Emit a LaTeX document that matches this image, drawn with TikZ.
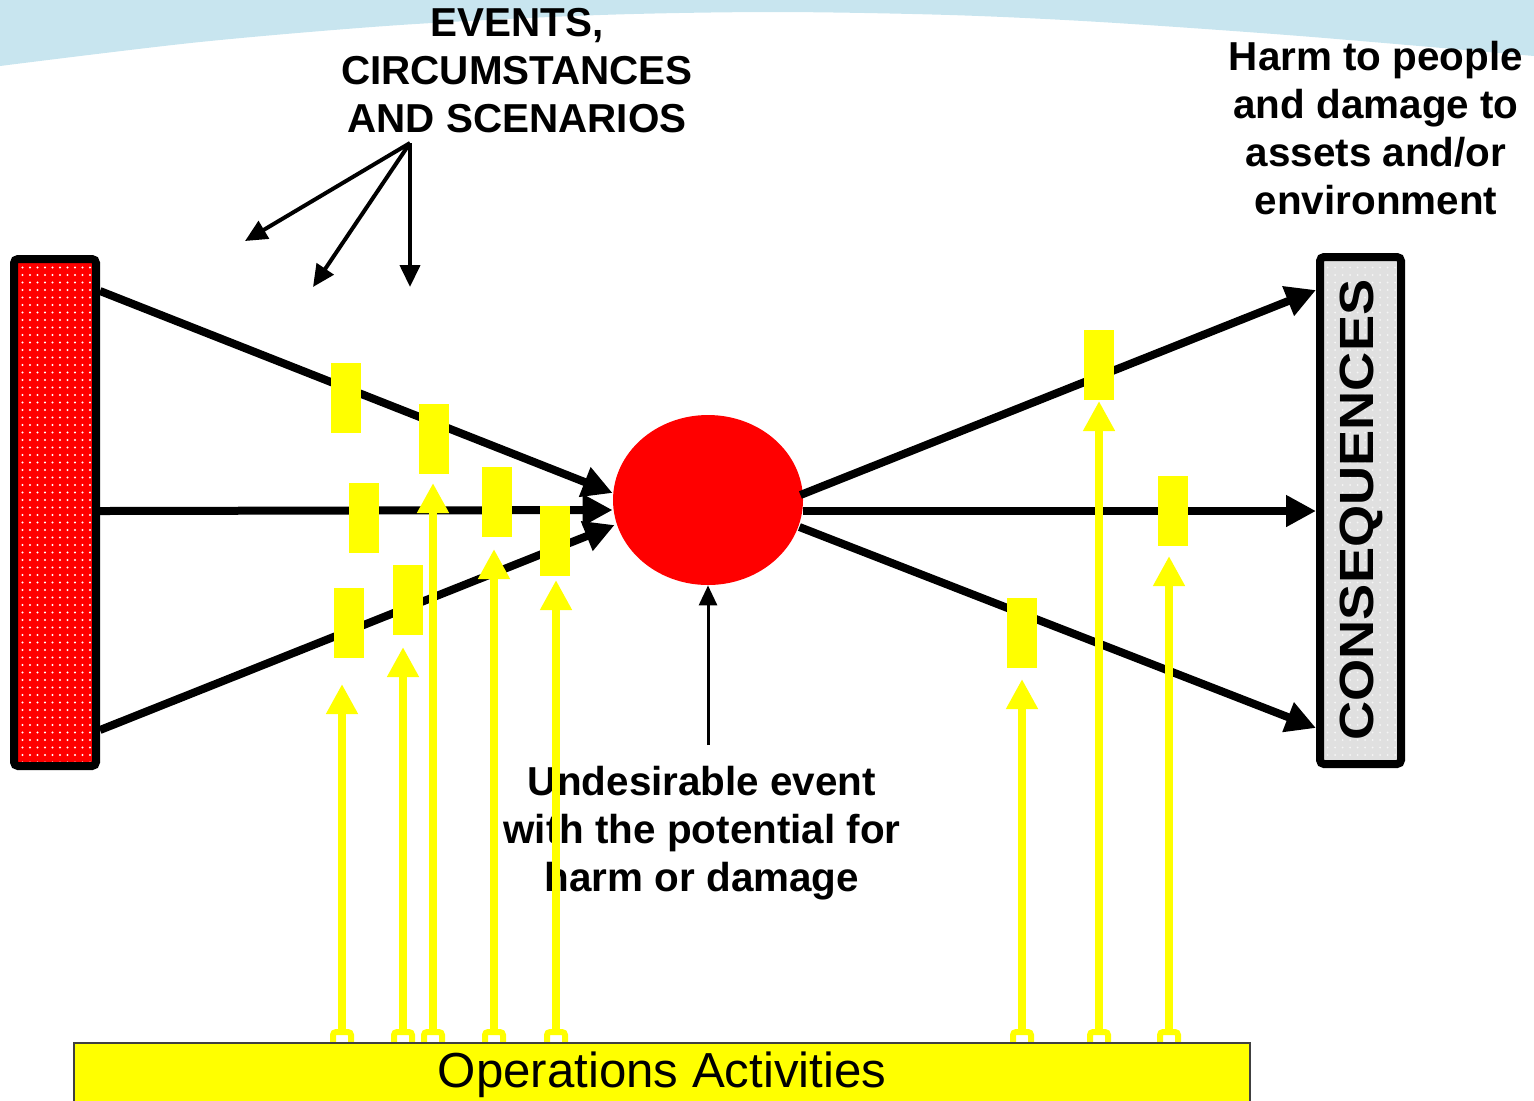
\documentclass[tikz,border=0pt]{standalone}
\usepackage{fontspec}
\setmainfont{Liberation Sans}
\usetikzlibrary{arrows.meta,shapes.geometric,patterns.meta,calc}
\definecolor{skyband}{RGB}{200,229,239}
\definecolor{ylw}{RGB}{255,255,0}
\definecolor{boxgray}{RGB}{224,224,224}
\tikzset{
  blkarrow/.style={line width=4pt, -{Triangle[length=15pt,width=15pt]}},
  evarrow/.style={line width=2pt, -{Triangle[length=11pt,width=10pt]}},
  thinptr/.style={line width=1.5pt, -{Triangle[length=10pt,width=9pt]}},
  yarrow/.style={draw=ylw, line width=4pt, -{Triangle[length=15pt,width=15pt]}},
  barrier/.style={rectangle, fill=ylw, minimum width=15pt, minimum height=35pt, inner sep=0pt},
  foot/.style={rectangle, draw=ylw, line width=3pt, fill=white, minimum size=9pt, inner sep=0pt, rounded corners=1.5pt},
  lbltext/.style={align=center, font=\fontsize{20.2}{24}\selectfont\bfseries, inner sep=0pt},
  endbox/.style={draw, line width=4pt, rounded corners=2pt, minimum width=41pt, minimum height=253.5pt, inner sep=0pt},
  opsbox/.style={rectangle, fill=ylw, draw=black!75, line width=0.6pt, minimum width=588pt, minimum height=32pt, inner sep=0pt, font=\fontsize{24.6}{28}\selectfont},
}
\begin{document}
\begin{tikzpicture}[x=0.5pt,y=-0.5pt]
\useasboundingbox (0,0) rectangle (1534,1100);
\clip (0,0) rectangle (1534,1100);
% sky band
\fill[skyband] (0,0) -- plot[smooth] coordinates {(0,66) (200,42) (400,25) (600,15) (775,12) (950,15) (1100,22) (1300,36) (1534,56)} -- (1534,0) -- cycle;

% end boxes and event
\node[endbox, preaction={fill=red}, preaction={pattern={Dots[radius=0.55pt,distance=3.75pt]}, pattern color=white}] (lb) at (55,512.5) {};
\node[endbox, minimum width=40.5pt, preaction={fill=boxgray}, preaction={pattern={Dots[radius=0.5pt,distance=3.75pt]}, pattern color=white!70!boxgray}] (rb) at (1360.5,510.5) {};
\node[rotate=90, inner sep=0pt, font=\fontsize{24}{28}\selectfont\bfseries] (cons) at (1361,510) {\scalebox{1.13}[1]{CONSEQUENCES}};
\node[ellipse, fill=red, minimum width=95pt, minimum height=85pt, inner sep=0pt] (ev) at (708,500) {};

% black causal lines
\draw[blkarrow] ([yshift=110.75pt]lb.east) -- ([yshift=3.5pt]ev.west);
\draw[blkarrow] ([yshift=0.75pt]lb.east) -- ([yshift=-5pt]ev.west);
\draw[blkarrow] ([yshift=-108.75pt]lb.east) -- ([xshift=1pt,yshift=-12.5pt]ev.west);
\draw[blkarrow] ([xshift=-1.5pt,yshift=2.5pt]ev.east) -- ([yshift=110.25pt]rb.west);
\draw[blkarrow] ([yshift=-5.5pt]ev.east) -- ([yshift=-0.25pt]rb.west);
\draw[blkarrow] ([xshift=-2pt,yshift=-13.5pt]ev.east) -- ([yshift=-108.75pt]rb.west);

% barriers
\node[barrier] (b1) at (346,398) {};
\node[barrier] (b2) at (434,439) {};
\node[barrier] (b3) at (364,518) {};
\node[barrier] (b4) at (497,502) {};
\node[barrier] (b5) at (555,541) {};
\node[barrier] (b6) at (349,623) {};
\node[barrier] (b7) at (408,600) {};
\node[barrier] (b8) at (1099,365) {};
\node[barrier] (b9) at (1173,511) {};
\node[barrier] (b10) at (1022,633) {};

% texts
\node[lbltext] (evt) at (517,70.5) {EVENTS,\\CIRCUMSTANCES\\AND SCENARIOS};
\node[lbltext] (harm) at (1376,128.5) {Harm to people\\and damage to\\assets and/or\\environment};
\node[lbltext] (ut) at (702,832.7) {Undesirable event\\with the potential for\\harm or damage};

% feet of yellow arrows
\node[foot] (f1) at (342,1041) {};
\node[foot] (f2) at (403,1041) {};
\node[foot] (f3) at (433,1041) {};
\node[foot] (f4) at (494,1041) {};
\node[foot] (f5) at (556,1041) {};
\node[foot] (f6) at (1022,1041) {};
\node[foot] (f7) at (1099,1041) {};
\node[foot] (f8) at (1169,1041) {};

% operations box
\node[opsbox] (ops) at (662,1075) {Operations Activities};

% yellow arrows
\coordinate (t1) at (342,684);
\coordinate (t2) at (403,647);
\coordinate (t3) at (433,483);
\coordinate (t4) at (494,549);
\coordinate (t5) at (556,580);
\coordinate (t6) at (1022,679);
\coordinate (t7) at (1099,401);
\coordinate (t8) at (1169,556);
\foreach \i in {1,...,8} { \draw[yarrow] (f\i.north) -- (t\i); }

% events pointers
\coordinate (esrc) at (410,143);
\coordinate (e1) at (245,241);
\coordinate (e2) at (313,287);
\coordinate (e3) at (410,287);
\draw[evarrow] (esrc) -- (e1);
\draw[evarrow] (esrc) -- (e2);
\draw[evarrow] (esrc) -- (e3);

% undesirable event pointer
\coordinate (pstart) at (708,745);
\draw[thinptr] (pstart) -- (ev.south);
\end{tikzpicture}
\end{document}
